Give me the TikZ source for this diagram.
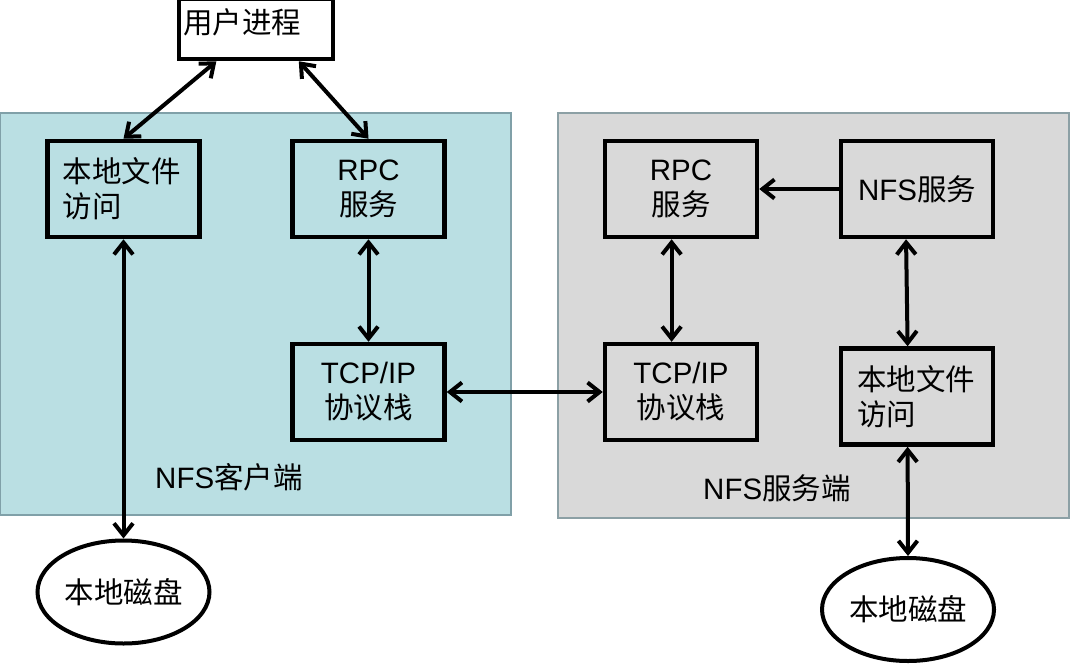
\documentclass[tikz,border=0pt]{standalone}
\usepackage{fontspec}
\setmainfont{Liberation Sans}
\newfontfamily\cjk{Noto Sans CJK SC}
\usetikzlibrary{arrows.meta,calc,shapes.geometric}
\definecolor{tealfill}{RGB}{186,223,227}
\definecolor{tealline}{RGB}{128,160,168}
\definecolor{grayfill}{RGB}{217,217,217}
\definecolor{grayline}{RGB}{140,160,165}
\tikzset{
  panel/.style={line width=2pt},
  boxnode/.style={draw=black,line width=4.5pt,minimum width=152pt,minimum height=96pt,inner sep=0pt,font=\fontsize{29.5}{35}\selectfont,align=center},
  leftbox/.style={boxnode,text width=122pt,align=left},
  disk/.style={ellipse,draw=black,line width=4pt,fill=white,minimum width=172pt,minimum height=103pt,inner sep=0pt,font=\fontsize{29.5}{35}\selectfont\cjk},
  lbl/.style={font=\fontsize{29.5}{35}\selectfont,inner sep=0pt},
  biarrow/.style={line width=4pt,{Straight Barb[length=12pt,width=19pt]}-{Straight Barb[length=12pt,width=19pt]}},
  onearrow/.style={line width=4pt,-{Straight Barb[length=12pt,width=19pt]}}
}
\begin{document}
\begin{tikzpicture}[x=1pt,y=-1pt]
\useasboundingbox (0,0) rectangle (1070,664);
% panels
\draw[panel,fill=tealfill,draw=tealline] (0,113) rectangle (511,515);
\draw[panel,fill=grayfill,draw=grayline] (558,113) rectangle (1069,518);
% top box
\node[draw=black,line width=4.5pt,fill=white,minimum width=154pt,minimum height=60pt,inner sep=0pt] (user) at (256,29) {};
\node[lbl,anchor=west] (userlbl) at (183,22) {\cjk 用户进程};
% client side
\node[leftbox] (cfa) at (123.5,189) {{\cjk 本地文件}\\{\cjk 访问}};
\node[boxnode] (crpc) at (368.5,189) {RPC\\{\cjk 服务}};
\node[boxnode] (ctcp) at (368.5,392) {TCP/IP\\{\cjk 协议栈}};
\node[disk] (cdisk) at (123.5,592) {本地磁盘};
\node[lbl,anchor=west] (clabel) at (155,477) {NFS{\cjk 客户端}};
% server side
\node[boxnode] (srpc) at (681,189) {RPC\\{\cjk 服务}};
\node[boxnode] (snfs) at (917,189) {NFS{\cjk 服务}};
\node[boxnode] (stcp) at (681,392) {TCP/IP\\{\cjk 协议栈}};
\node[leftbox,text width=120pt] (sfa) at (917,396.5) {{\cjk 本地文件}\\{\cjk 访问}};
\node[disk] (sdisk) at (908,609.5) {本地磁盘};
\node[lbl,anchor=west] (slabel) at (703,488) {NFS{\cjk 服务端}};
% connectors
\draw[biarrow] ($(user.south west)!0.25!(user.south east)$) -- (cfa.north);
\draw[biarrow] ($(user.south west)!0.77!(user.south east)$) -- (crpc.north);
\draw[biarrow] (crpc.south) -- (ctcp.north);
\draw[biarrow] (cfa.south) -- (cdisk.north);
\draw[biarrow] (ctcp.east) -- (stcp.west);
\draw[biarrow] ($(srpc.south west)!0.44!(srpc.south east)$) -- ($(stcp.north west)!0.44!(stcp.north east)$);
\draw[onearrow] (snfs.west) -- (srpc.east);
\draw[biarrow] ($(snfs.south west)!0.43!(snfs.south east)$) -- ($(sfa.north west)!0.44!(sfa.north east)$);
\draw[biarrow] ($(sfa.south west)!0.44!(sfa.south east)$) -- (sdisk.north);
\end{tikzpicture}
\end{document}
